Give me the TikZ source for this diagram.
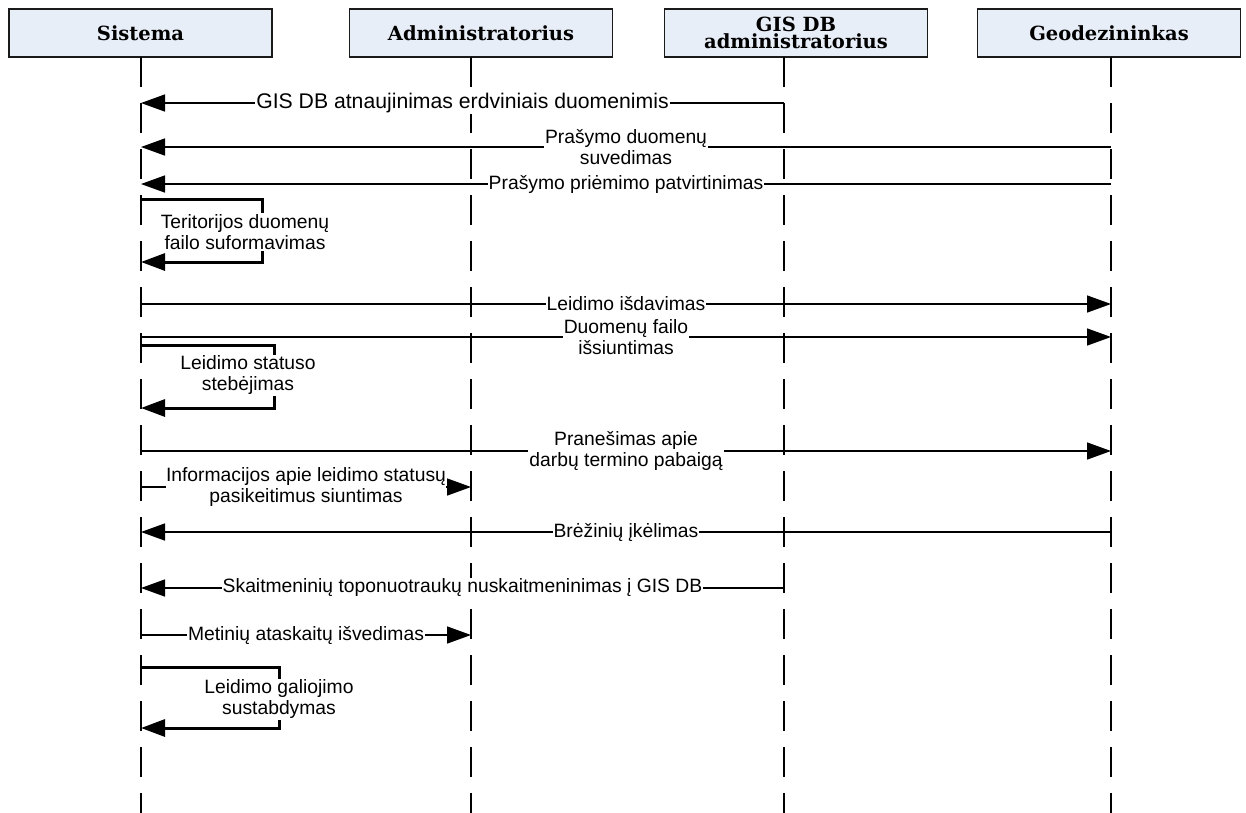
\documentclass[tikz,border=0pt]{standalone}
\usepackage{fontspec}
\setmainfont{Liberation Sans}
\newfontfamily\headfont{DejaVu Serif}
\usetikzlibrary{arrows.meta,positioning}
\definecolor{ActorFill} {HTML}{E8EEF7}
\definecolor{ActorLine} {HTML}{1A1A1A}

\begin{document}
\begin{tikzpicture}[x=1pt,y=-1pt,
    actor/.style={draw=ActorLine,fill=ActorFill,line width=1.4pt,
      minimum width=263pt,minimum height=48pt,inner sep=0pt,align=center,
      font=\headfont\bfseries\fontsize{19.5}{17}\selectfont},
    lifeline/.style={line width=2pt,dash pattern=on 30pt off 16pt},
    msgline/.style={line width=1.5pt},
    msg/.style={msgline,-{Triangle[length=24pt,width=17pt]}},
    selfmsg/.style={line width=3pt,-{Triangle[length=24pt,width=17pt]}},
    lbl/.style={fill=white,inner sep=1pt,align=center,
      font=\fontsize{19.3}{21}\selectfont}]
  \useasboundingbox (0,0) rectangle (1246,812);
  % actors
  \node[actor] (sis) at (140.5,33) {Sistema};
  \node[actor] (adm) at (481,33) {Administratorius};
  \node[actor] (gis) at (796,33) {GIS DB\\administratorius};
  \node[actor] (geo) at (1109,33) {Geodezininkas};
  % lifelines
  \coordinate (sisL) at (141,57);
  \coordinate (admL) at (471,57);
  \coordinate (gisL) at (784,57);
  \coordinate (geoL) at (1111,57);
  \draw[lifeline] (sisL) -- ++(0,760);
  \draw[lifeline] (admL) -- ++(0,760);
  \draw[lifeline] (gisL) -- ++(0,760);
  \draw[lifeline] (geoL) -- ++(0,760);
  % message rows
  \coordinate (r1) at (0,103);
  \coordinate (r2) at (0,147);
  \coordinate (r3) at (0,184);
  \coordinate (r5) at (0,304);
  \coordinate (r6) at (0,337);
  \coordinate (r8) at (0,451);
  \coordinate (r9) at (0,487);
  \coordinate (r10) at (0,532);
  \coordinate (r11) at (0,588);
  \coordinate (r12) at (0,635);
  % messages
  \draw[msg] (gisL |- r1) -- node[lbl,font=\fontsize{21.2}{23}\selectfont] {GIS DB atnaujinimas erdviniais duomenimis} (sisL |- r1);
  \draw[msg] (geoL |- r2) -- node[lbl] {Prašymo duomenų\\suvedimas} (sisL |- r2);
  \draw[msg] (geoL |- r3) -- node[lbl] {Prašymo priėmimo patvirtinimas} (sisL |- r3);
  \draw[selfmsg] (sisL |- 0,199) -- ++(121,0) -- ++(0,63) -- ++(-121,0);
  \node[lbl] (self1) at (245,232) {Teritorijos duomenų\\failo suformavimas};
  \draw[msg] (sisL |- r5) -- node[lbl] {Leidimo išdavimas} (geoL |- r5);
  \draw[msg] (sisL |- r6) -- node[lbl] {Duomenų failo\\išsiuntimas} (geoL |- r6);
  \draw[selfmsg] (sisL |- 0,345) -- ++(133,0) -- ++(0,63) -- ++(-133,0);
  \node[lbl] (self2) at (248,375) {Leidimo statuso\\stebėjimas};
  \draw[msg] (sisL |- r8) -- node[lbl] {Pranešimas apie\\darbų termino pabaigą} (geoL |- r8);
  \node[lbl,inner sep=0pt] (info) at (306,487) {Informacijos apie leidimo statusų\\pasikeitimus siuntimas};
  \draw[msgline] (sisL |- r9) -- (info.west |- r9);
  \draw[msg] (info.east |- r9) -- (admL |- r9);
  \draw[msg] (geoL |- r10) -- node[lbl] {Brėžinių įkėlimas} (sisL |- r10);
  \draw[msg] (gisL |- r11) -- node[lbl] {Skaitmeninių toponuotraukų nuskaitmeninimas į GIS DB} (sisL |- r11);
  \draw[msg] (sisL |- r12) -- node[lbl] {Metinių ataskaitų išvedimas} (admL |- r12);
  \draw[selfmsg] (sisL |- 0,667) -- ++(138,0) -- ++(0,61) -- ++(-138,0);
  \node[lbl] (self3) at (279,699) {Leidimo galiojimo\\sustabdymas};
\end{tikzpicture}
\end{document}
